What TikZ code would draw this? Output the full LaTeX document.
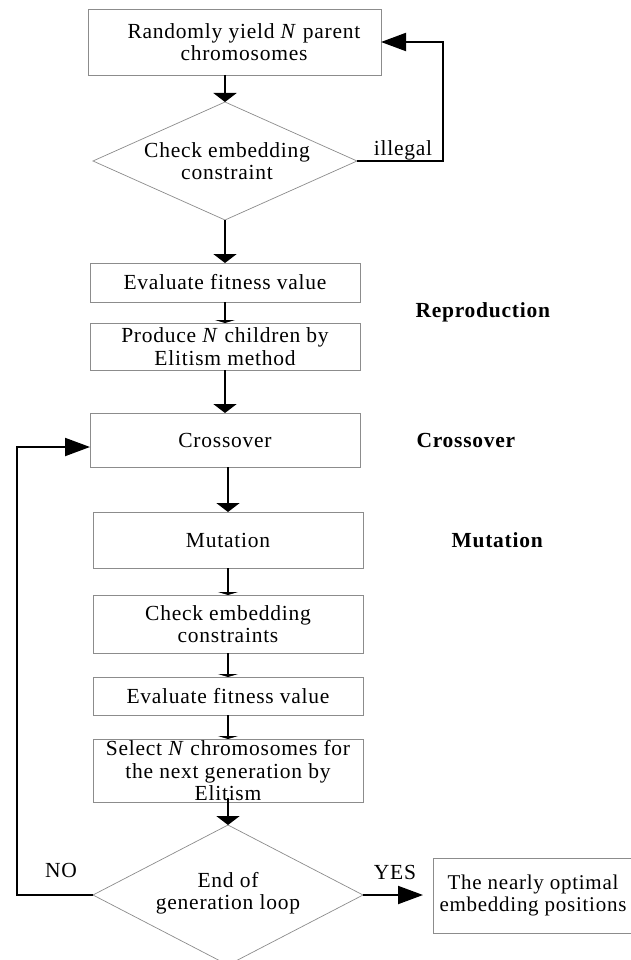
\documentclass[tikz,border=0pt]{standalone}
\usepackage{fontspec}
\setmainfont{Liberation Serif}[LetterSpace=3.5]
\usetikzlibrary{arrows.meta}
\definecolor{boxgray}{RGB}{140,140,140}
\begin{document}
\begin{tikzpicture}[x=1pt,y=-1pt,
  box/.style={draw=boxgray, line width=0.9pt, rectangle, inner sep=0pt, outer sep=0pt, align=center, font=\fontsize{21.5}{22.5}\selectfont},
  dia/.style={draw=boxgray, line width=0.7pt},
  lab/.style={font=\fontsize{21.5}{22.5}\selectfont, align=center},
  blab/.style={font=\fontsize{21.5}{22.5}\selectfont\bfseries, anchor=west},
  big/.style={line width=2.4pt, -{Triangle[width=23pt,length=9pt]}},
  small/.style={line width=1.8pt, -{Triangle[width=20pt,length=3pt]}},
  side/.style={line width=2pt, -{Triangle[width=18pt,length=25pt]}}]
\useasboundingbox (0,0) rectangle (630,960);
\fill[white] (0,0) rectangle (630,960);

% boxes
\node[box, minimum width=293pt, minimum height=66pt] (b1) at (234.5,42) {};
\node[lab] (t1) at (244,42) {Randomly yield \textit{N} parent\\chromosomes};
\node[box, minimum width=270pt, minimum height=39pt] (b2) at (225,282.5) {Evaluate fitness value};
\node[box, minimum width=270pt, minimum height=47pt] (b3) at (225,346.5) {Produce \textit{N} children by\\Elitism method};
\node[box, minimum width=270pt, minimum height=54pt] (b4) at (225,440) {Crossover};
\node[box, minimum width=270pt, minimum height=56pt] (b5) at (228,540) {Mutation};
\node[box, minimum width=270pt, minimum height=58pt] (b6) at (228,624) {Check embedding\\constraints};
\node[box, minimum width=270pt, minimum height=38pt] (b7) at (228,696) {Evaluate fitness value};
\node[box, minimum width=270pt, minimum height=63pt] (b8) at (228,770.5) {};
\node[lab] (t8) at (228,771) {Select \textit{N} chromosomes for\\the next generation by\\Elitism};
\node[box, minimum width=207pt, minimum height=75pt] (b9) at (536.5,895.5) {};
\node[lab, font=\fontsize{21}{22.5}\selectfont] (t9) at (533,895.5) {The nearly optimal\\embedding positions};

% decision 1
\draw[dia] (225,102) coordinate (d1n) -- (357,161) coordinate (d1e)
  -- (225,220) coordinate (d1s) -- (93,161) coordinate (d1w) -- cycle;
\node[lab] (td1) at (227,161) {Check embedding\\constraint};
% decision 2
\draw[dia] (228,825) coordinate (d2n) -- (363,895) coordinate (d2e)
  -- (228,965) coordinate (d2s) -- (93,895) coordinate (d2w) -- cycle;
\node[lab] (td2) at (228,893) {End of\\generation loop};

% connectors
\draw[big] (b1.south -| d1n) -- (d1n);
\draw[side] (d1e) -- ++(86,0) |- (b1.east);
\node[lab] (lil) at (403,150) {illegal};
\draw[big] (d1s) -- (b2.north -| d1s);
\draw[small] (b2) -- (b3);
\draw[big] (b3) -- (b4);
\draw[big] (b4.south -| b5.north) -- (b5.north);
\draw[small] (b5) -- (b6);
\draw[small] (b6) -- (b7);
\draw[small] (b7) -- (b8);
\draw[big] ([yshift=4pt]b8.south) -- (d2n);
\draw[side] (d2w) -- ++(-76,0) |- ([yshift=-7pt]b4.west);
\node[lab] (lno) at (61,870) {NO};
\draw[side] (d2e) -- ([xshift=-10pt]b9.west |- d2e);
\node[lab] (lyes) at (395,872) {YES};

\node[blab] (r1) at (412,312) {Reproduction};
\node[blab] (r2) at (413,440) {Crossover};
\node[blab] (r3) at (448,540) {Mutation};
\end{tikzpicture}
\end{document}
